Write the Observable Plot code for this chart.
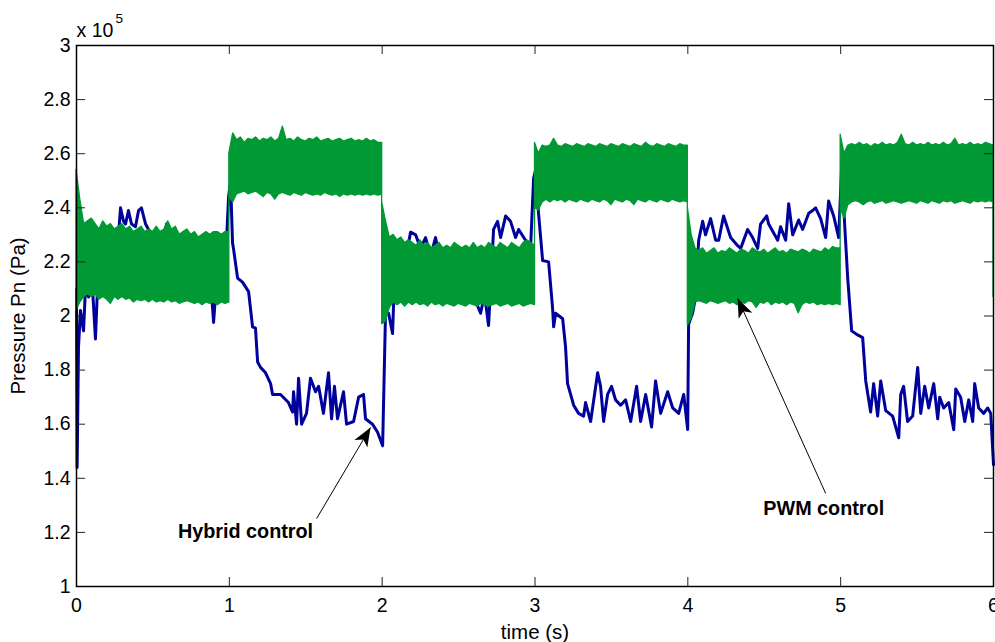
<!DOCTYPE html>
<html>
<head>
<meta charset="utf-8">
<script src="https://cdn.jsdelivr.net/npm/d3@7"></script>
<script src="https://cdn.jsdelivr.net/npm/@observablehq/plot@0.6"></script>
<style>
html, body { margin: 0; padding: 0; background: #fff; overflow: hidden; }
#chart svg { display: block; }
</style>
</head>
<body>
<div id="chart"></div>
<script>
// ---------------- data (pressure in units of 1e5 Pa) ----------------
const xTicks = [0, 1, 2, 3, 4, 5, 6];
const xTickLabels = ["0", "1", "2", "3", "4", "5", "6"];
const yTicks = [1, 1.2, 1.4, 1.6, 1.8, 2, 2.2, 2.4, 2.6, 2.8, 3];
const yTickLabels = ["1", "1.2", "1.4", "1.6", "1.8", "2", "2.2", "2.4", "2.6", "2.8", "3"];
const xLabel = "time (s)";
const yLabel = "Pressure Pn (Pa)";
const exponentBase = "x 10";
const exponentPower = "5";

// Hybrid control (blue line): [time s, pressure]
const hybridControl = [
  [0, 2.10], [0.004, 1.44], [0.013, 1.885], [0.026, 2.02], [0.046, 1.945], [0.059, 2.105], [0.079, 2.07], [0.105, 2.10],
  [0.124, 1.915], [0.137, 2.10], [0.17, 2.15], [0.21, 2.20], [0.255, 2.25], [0.275, 2.30], [0.288, 2.40], [0.308, 2.35],
  [0.321, 2.34], [0.34, 2.39], [0.36, 2.34], [0.386, 2.33], [0.406, 2.39], [0.425, 2.40], [0.452, 2.34], [0.471, 2.32],
  [0.497, 2.30], [0.53, 2.28], [0.569, 2.27], [0.589, 2.34], [0.609, 2.30], [0.648, 2.24], [0.713, 2.20], [0.779, 2.15],
  [0.844, 2.10], [0.884, 2.08], [0.897, 1.976], [0.91, 2.08], [0.942, 2.15], [0.975, 2.20], [0.995, 2.44], [1.008, 2.50],
  [1.021, 2.27], [1.027, 2.25], [1.054, 2.14], [1.086, 2.125], [1.126, 2.09], [1.152, 1.96], [1.171, 1.955], [1.185, 1.83],
  [1.204, 1.81], [1.237, 1.79], [1.27, 1.75], [1.283, 1.71], [1.335, 1.71], [1.387, 1.68], [1.414, 1.645], [1.42, 1.72],
  [1.44, 1.60], [1.453, 1.77], [1.473, 1.60], [1.505, 1.64], [1.531, 1.77], [1.564, 1.72], [1.584, 1.74], [1.616, 1.64],
  [1.649, 1.79], [1.669, 1.62], [1.688, 1.74], [1.708, 1.62], [1.747, 1.72], [1.767, 1.60], [1.813, 1.61], [1.846, 1.70],
  [1.878, 1.71], [1.891, 1.62], [1.937, 1.60], [1.97, 1.57], [2.003, 1.52], [2.022, 2.01], [2.042, 2.01], [2.068, 1.935],
  [2.075, 2.05], [2.12, 2.15], [2.166, 2.25], [2.186, 2.31], [2.219, 2.30], [2.251, 2.25], [2.284, 2.29], [2.317, 2.22],
  [2.349, 2.29], [2.382, 2.20], [2.448, 2.15], [2.513, 2.12], [2.579, 2.10], [2.644, 2.01], [2.67, 2.08], [2.696, 1.965],
  [2.709, 2.10], [2.729, 2.32], [2.755, 2.35], [2.775, 2.29], [2.808, 2.37], [2.84, 2.35], [2.873, 2.29], [2.893, 2.32],
  [2.938, 2.28], [2.971, 2.25], [2.991, 2.51], [3.004, 2.54], [3.023, 2.38], [3.05, 2.205], [3.089, 2.20], [3.115, 2.03],
  [3.122, 1.96], [3.135, 2.01], [3.181, 1.99], [3.2, 1.885], [3.213, 1.75], [3.233, 1.71], [3.253, 1.67], [3.285, 1.64],
  [3.318, 1.63], [3.331, 1.68], [3.364, 1.61], [3.41, 1.79], [3.429, 1.74], [3.449, 1.61], [3.475, 1.71], [3.501, 1.74],
  [3.527, 1.69], [3.56, 1.67], [3.593, 1.69], [3.626, 1.61], [3.665, 1.74], [3.691, 1.61], [3.724, 1.71], [3.763, 1.59],
  [3.789, 1.76], [3.822, 1.64], [3.868, 1.72], [3.901, 1.66], [3.94, 1.64], [3.973, 1.71], [3.999, 1.58], [4.005, 1.97],
  [4.031, 2.01], [4.051, 2.07], [4.071, 2.28], [4.097, 2.35], [4.116, 2.30], [4.149, 2.36], [4.182, 2.28], [4.202, 2.28],
  [4.234, 2.37], [4.28, 2.29], [4.326, 2.26], [4.346, 2.25], [4.391, 2.32], [4.424, 2.29], [4.457, 2.25], [4.476, 2.34],
  [4.516, 2.37], [4.529, 2.34], [4.588, 2.28], [4.607, 2.33], [4.64, 2.28], [4.66, 2.415], [4.686, 2.30], [4.725, 2.355],
  [4.751, 2.32], [4.791, 2.38], [4.817, 2.39], [4.836, 2.40], [4.869, 2.36], [4.902, 2.29], [4.921, 2.425], [4.954, 2.37],
  [4.987, 2.29], [5.007, 2.56], [5.02, 2.40], [5.046, 2.14], [5.072, 1.945], [5.111, 1.93], [5.144, 1.92], [5.164, 1.76],
  [5.196, 1.645], [5.216, 1.75], [5.242, 1.63], [5.262, 1.76], [5.295, 1.65], [5.34, 1.63], [5.38, 1.55], [5.393, 1.71],
  [5.412, 1.74], [5.438, 1.61], [5.471, 1.63], [5.504, 1.81], [5.524, 1.64], [5.55, 1.74], [5.576, 1.66], [5.609, 1.75],
  [5.635, 1.62], [5.648, 1.70], [5.674, 1.66], [5.707, 1.68], [5.74, 1.58], [5.753, 1.73], [5.785, 1.70], [5.812, 1.61],
  [5.838, 1.69], [5.864, 1.61], [5.877, 1.75], [5.903, 1.66], [5.936, 1.64], [5.962, 1.66], [5.982, 1.64], [6.0, 1.45]
];

// PWM control (green band): upper / lower envelope, one row per 1 s segment, sampled every 0.025 s
const pwmSegmentStart = [0, 1, 2, 3, 4, 5];
const pwmSampleStep = 0.025;
const pwmUpper = [
  [2.54, 2.43, 2.34, 2.35, 2.36, 2.34, 2.32, 2.35, 2.33, 2.34, 2.32, 2.33, 2.34, 2.32, 2.33, 2.31, 2.32, 2.33, 2.31, 2.32,
   2.31, 2.33, 2.31, 2.32, 2.35, 2.32, 2.33, 2.30, 2.31, 2.32, 2.30, 2.31, 2.29, 2.30, 2.31, 2.30, 2.31, 2.31, 2.30, 2.31, 2.31],
  [2.60, 2.675, 2.65, 2.66, 2.64, 2.655, 2.65, 2.66, 2.645, 2.655, 2.65, 2.66, 2.645, 2.655, 2.70, 2.65, 2.655, 2.645, 2.66, 2.65,
   2.645, 2.655, 2.65, 2.66, 2.645, 2.65, 2.655, 2.645, 2.65, 2.655, 2.645, 2.65, 2.655, 2.645, 2.65, 2.645, 2.655, 2.645, 2.65, 2.64, 2.64],
  [2.42, 2.35, 2.29, 2.30, 2.28, 2.29, 2.27, 2.28, 2.27, 2.26, 2.28, 2.26, 2.27, 2.25, 2.26, 2.27, 2.25, 2.26, 2.25, 2.27,
   2.26, 2.25, 2.26, 2.25, 2.27, 2.25, 2.26, 2.25, 2.27, 2.26, 2.25, 2.27, 2.26, 2.25, 2.27, 2.26, 2.25, 2.27, 2.28, 2.27, 2.26],
  [2.64, 2.60, 2.63, 2.625, 2.63, 2.655, 2.63, 2.625, 2.635, 2.63, 2.625, 2.635, 2.63, 2.625, 2.635, 2.63, 2.625, 2.635, 2.63, 2.625,
   2.635, 2.63, 2.625, 2.635, 2.63, 2.625, 2.635, 2.63, 2.625, 2.64, 2.63, 2.625, 2.635, 2.63, 2.625, 2.635, 2.63, 2.625, 2.635, 2.63, 2.63],
  [2.40, 2.30, 2.25, 2.24, 2.25, 2.23, 2.24, 2.25, 2.23, 2.24, 2.235, 2.25, 2.24, 2.23, 2.245, 2.24, 2.23, 2.25, 2.24, 2.235,
   2.245, 2.23, 2.24, 2.25, 2.235, 2.24, 2.23, 2.245, 2.24, 2.235, 2.245, 2.24, 2.23, 2.245, 2.24, 2.235, 2.25, 2.24, 2.255, 2.25, 2.25],
  [2.67, 2.60, 2.63, 2.635, 2.63, 2.64, 2.63, 2.635, 2.625, 2.635, 2.63, 2.64, 2.63, 2.635, 2.63, 2.64, 2.67, 2.635, 2.63, 2.64,
   2.63, 2.635, 2.63, 2.64, 2.63, 2.635, 2.63, 2.64, 2.63, 2.635, 2.655, 2.63, 2.635, 2.63, 2.64, 2.63, 2.635, 2.63, 2.64, 2.635, 2.63]
];
const pwmLower = [
  [2.02, 2.05, 2.07, 2.08, 2.07, 2.08, 2.06, 2.07, 2.06, 2.045, 2.07, 2.06, 2.07, 2.06, 2.065, 2.05, 2.06, 2.055, 2.06, 2.05,
   2.06, 2.05, 2.055, 2.05, 2.06, 2.05, 2.055, 2.045, 2.05, 2.055, 2.05, 2.045, 2.05, 2.04, 2.05, 2.045, 2.05, 2.04, 2.05, 2.045, 2.05],
  [2.44, 2.42, 2.45, 2.455, 2.46, 2.45, 2.455, 2.46, 2.45, 2.44, 2.455, 2.45, 2.43, 2.45, 2.455, 2.45, 2.445, 2.455, 2.45, 2.445,
   2.455, 2.45, 2.445, 2.45, 2.445, 2.455, 2.45, 2.445, 2.45, 2.44, 2.45, 2.445, 2.45, 2.445, 2.45, 2.445, 2.45, 2.445, 2.45, 2.445, 2.45],
  [1.97, 1.98, 2.03, 2.05, 2.04, 2.05, 2.035, 2.05, 2.04, 2.05, 2.04, 2.045, 2.035, 2.05, 2.04, 2.045, 2.035, 2.045, 2.04, 2.035,
   2.045, 2.04, 2.035, 2.045, 2.04, 2.035, 2.045, 2.04, 2.035, 2.04, 2.045, 2.035, 2.04, 2.045, 2.035, 2.04, 2.045, 2.035, 2.04, 2.045, 2.04],
  [2.40, 2.39, 2.42, 2.43, 2.42, 2.43, 2.425, 2.43, 2.42, 2.43, 2.425, 2.42, 2.43, 2.425, 2.42, 2.43, 2.425, 2.42, 2.43, 2.425,
   2.41, 2.43, 2.425, 2.42, 2.43, 2.425, 2.41, 2.43, 2.425, 2.42, 2.43, 2.425, 2.42, 2.43, 2.425, 2.42, 2.43, 2.425, 2.42, 2.425, 2.42],
  [1.965, 1.99, 2.05, 2.055, 2.05, 2.045, 2.055, 2.05, 2.045, 2.05, 2.055, 2.045, 2.05, 2.04, 2.05, 2.045, 2.055, 2.05, 2.03, 2.05,
   2.045, 2.055, 2.04, 2.05, 2.045, 2.05, 2.04, 2.05, 2.045, 2.01, 2.04, 2.05, 2.045, 2.05, 2.04, 2.045, 2.04, 2.045, 2.04, 2.045, 2.04],
  [2.40, 2.36, 2.41, 2.42, 2.425, 2.42, 2.41, 2.42, 2.425, 2.415, 2.42, 2.425, 2.415, 2.42, 2.425, 2.42, 2.415, 2.42, 2.425, 2.42,
   2.415, 2.425, 2.42, 2.415, 2.425, 2.42, 2.415, 2.425, 2.42, 2.425, 2.415, 2.42, 2.425, 2.42, 2.415, 2.425, 2.42, 2.425, 2.42, 2.425, 2.42]
];
const pwmTail = {t: 6, hi: 2.42, lo: 2.07};

// annotations
const annotationText = ["Hybrid control", "PWM control"];
const annotationTextX = [1.106, 4.889];
const annotationTextY = [1.201, 1.286];
const arrowFromX = [1.571, 4.902];
const arrowFromY = [1.251, 1.344];
const arrowToX = [1.924, 4.326];
const arrowToY = [1.588, 2.065];

// ---------------- layout ----------------
const W = 995, H = 642, mL = 76, mR = 2, mT = 45, mB = 56;
const innerW = W - mL - mR, innerH = H - mT - mB;
const greenColor = "#009933";
const blueColor = "#00009c";
const fontFam = "'Liberation Sans', Arial, Helvetica, sans-serif";

const pwmRows = [];
pwmSegmentStart.forEach((s, k) => {
  pwmUpper[k].forEach((hi, i) => pwmRows.push({t: s + i * pwmSampleStep, hi, lo: pwmLower[k][i]}));
});
pwmRows.push(pwmTail);

const hybridRows = hybridControl.map(([t, p]) => ({t, p}));
const annotations = annotationText.map((text, i) => ({text, x: annotationTextX[i], y: annotationTextY[i]}));
const arrows = arrowFromX.map((x1, i) => ({x1, y1: arrowFromY[i], x2: arrowToX[i], y2: arrowToY[i]}));

const chart = Plot.plot({
  width: W, height: H,
  marginLeft: mL, marginRight: mR, marginTop: mT, marginBottom: mB,
  style: {fontFamily: fontFam, fontSize: "19.5px", background: "white", color: "black", overflow: "visible"},
  x: {domain: [0, 6], ticks: xTicks, tickSize: 0, tickPadding: 12,
      tickFormat: d => xTickLabels[xTicks.indexOf(d)], label: null},
  y: {domain: [1, 3], ticks: yTicks, tickSize: 0, tickPadding: 6,
      tickFormat: d => yTickLabels[yTicks.indexOf(d)], label: null},
  marks: [
    Plot.line(hybridRows, {x: "t", y: "p", stroke: blueColor, strokeWidth: 3, strokeLinejoin: "round", strokeLinecap: "round"}),
    Plot.areaY(pwmRows, {x: "t", y1: "lo", y2: "hi", fill: greenColor, stroke: greenColor, strokeWidth: 1.3}),
    // inward ticks on all four sides
    Plot.ruleX(xTicks, {x: d => d, insetTop: innerH - 9, stroke: "#222", strokeWidth: 1}),
    Plot.ruleX(xTicks, {x: d => d, insetBottom: innerH - 9, stroke: "#222", strokeWidth: 1}),
    Plot.ruleY(yTicks, {y: d => d, insetRight: innerW - 9, stroke: "#222", strokeWidth: 1}),
    Plot.ruleY(yTicks, {y: d => d, insetLeft: innerW - 9, stroke: "#222", strokeWidth: 1}),
    Plot.frame({stroke: "black", strokeWidth: 1.5}),
    // arrows
    Plot.link(arrows, {x1: "x1", y1: "y1", x2: "x2", y2: "y2", stroke: "black", strokeWidth: 1}),
    Plot.text(annotations, {x: "x", y: "y", text: "text", fontWeight: "bold", fontSize: 19.8, lineAnchor: "middle", fill: "black"}),
    // axis titles
    Plot.text([xLabel], {text: d => d, frameAnchor: "bottom", dy: 46, lineAnchor: "middle", fontSize: 20.5, fill: "black"}),
    Plot.text([yLabel], {text: d => d, frameAnchor: "left", dx: -58, rotate: -90, lineAnchor: "middle", textAnchor: "middle", fontSize: 20.5, fill: "black"}),
    // exponent
    Plot.text([exponentBase], {text: d => d, frameAnchor: "top-left", dy: -9, textAnchor: "start", lineAnchor: "bottom", fontSize: 19.5, fill: "black"}),
    Plot.text([exponentPower], {text: d => d, frameAnchor: "top-left", dx: 39, dy: -23, textAnchor: "start", lineAnchor: "bottom", fontSize: 13.5, fill: "black"})
  ]
});

// filled arrow heads on the link paths
const ns = "http://www.w3.org/2000/svg";
const defs = document.createElementNS(ns, "defs");
const marker = document.createElementNS(ns, "marker");
marker.setAttribute("id", "arrowhead-fill");
marker.setAttribute("viewBox", "-20 -8 21 16");
marker.setAttribute("refX", "0");
marker.setAttribute("refY", "0");
marker.setAttribute("markerWidth", "21");
marker.setAttribute("markerHeight", "16");
marker.setAttribute("markerUnits", "userSpaceOnUse");
marker.setAttribute("orient", "auto");
const head = document.createElementNS(ns, "path");
head.setAttribute("d", "M0,0L-19,-7.5L-14,0L-19,7.5Z");
head.setAttribute("fill", "black");
marker.appendChild(head);
defs.appendChild(marker);
chart.insertBefore(defs, chart.firstChild);
chart.querySelectorAll('g[aria-label="link"] path').forEach(p => p.setAttribute("marker-end", "url(#arrowhead-fill)"));

document.getElementById("chart").appendChild(chart);
</script>
</body>
</html>
